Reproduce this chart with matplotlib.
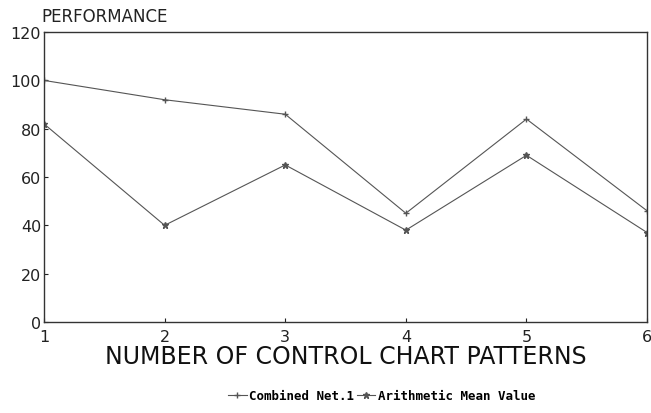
import matplotlib
matplotlib.use("Agg")
import matplotlib.pyplot as plt

patterns = [1, 2, 3, 4, 5, 6]
combined_net = [100, 92, 86, 45, 84, 46]
arith_mean = [82, 40, 65, 38, 69, 37]

fig = plt.figure(figsize=(6.51, 4.14), dpi=100)
ax = fig.add_axes([0.0676, 0.22, 0.9264, 0.70])

ax.plot(patterns, combined_net, color="#555555", lw=0.8, marker="+", ms=5,
        label="Combined Net.1")
ax.plot(patterns, arith_mean, color="#555555", lw=0.8, marker="*", ms=5,
        label="Arithmetic Mean Value")

ax.set_xlim(1, 6)
ax.set_ylim(0, 120)
ax.set_xticks(patterns)
ax.set_yticks(range(0, 121, 20))
ax.tick_params(direction="in", length=3, labelsize=11.5, colors="#222222")
ax.tick_params(axis="y", pad=2)
ax.tick_params(axis="x", pad=5)
for s in ax.spines.values():
    s.set_color("#333333")
    s.set_linewidth(1.0)

fig.text(0.064, 0.958, "PERFORMANCE", fontsize=12, color="#222222",
         ha="left", va="center")
ax.set_xlabel("NUMBER OF CONTROL CHART PATTERNS", fontsize=17,
              color="#111111", labelpad=0)

ax.legend(loc="center", bbox_to_anchor=(0.56, -0.255), ncol=2,
          frameon=False, handlelength=1.5, handletextpad=0.2, columnspacing=0.2,
          prop={"family": "DejaVu Sans Mono", "weight": "bold", "size": 9})

fig.savefig("out.png", dpi=100)
